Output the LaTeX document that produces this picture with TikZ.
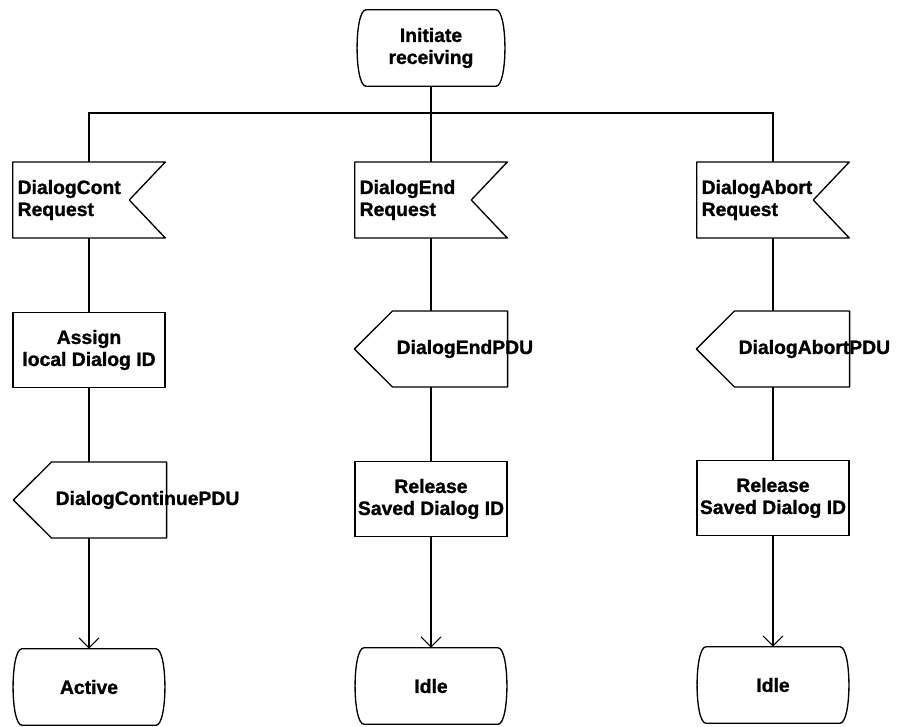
\documentclass[tikz,border=0pt]{standalone}
\usepackage{fontspec}
\setmainfont{Liberation Sans}[BoldFeatures={FakeBold=1.2}]
\usetikzlibrary{arrows.meta}
\tikzset{
    %Define standard arrow tip
    >={Straight Barb[length=7.5pt,width=15pt]},
    %Define base style for boxes
    box/.style={
           rectangle,
           inner xsep=0pt,
           minimum width=114pt,
           minimum height=56.5pt,
           font=\bfseries\fontsize{14.5}{16.5}\selectfont,
           align=center},
    %Define style for states (outline drawn later)
    state/.style={box, minimum height=57pt},
    %Define style for tasks
    task/.style={box, draw=black, line width=1pt},
    %Define style for input signals (outline drawn later)
    insig/.style={box, inner xsep=3.5pt, text width=107pt, align=left},
    %Define style for output signals (outline drawn later)
    outsig/.style={box, minimum width=86pt, inner xsep=3pt, text width=80pt, align=left},
    % Define line style
    pil/.style={line width=0.8pt},
    % Define outline style
    rand/.style={line width=1pt, line join=round}
}
\begin{document}
\begin{tikzpicture}[x=0.75pt,y=-0.75pt]
\useasboundingbox (0,0) rectangle (903,727);
 %nodes
\node[state, minimum width=111pt](init) at (431,48){Initiate\\receiving};
\coordinate (split) at (431,113);
\node[insig](recvL) at (89,200){DialogCont\\Request};
\node[insig](recvM) at (431,200){DialogEnd\\Request};
\node[insig](recvR) at (773,200){DialogAbort\\Request};
\node[task](taskL) at (89,350){Assign\\local Dialog ID};
\node[outsig](sendM) at (450,349){DialogEndPDU};
\node[outsig](sendR) at (792,349){DialogAbortPDU};
\node[outsig](sendL) at (109,500){DialogContinuePDU};
\node[task](taskM) at (431,499){Release\\Saved Dialog ID};
\node[task](taskR) at (773,498){Release\\Saved Dialog ID};
\node[state](active) at (89,687){Active};
\node[state](idleM) at (431,686){Idle};
\node[state](idleR) at (773,685){Idle};
 %outlines
\foreach \n in {init,active,idleM,idleR}
  \draw[rand] ([xshift=7pt]\n.north west) -- ([xshift=-7pt]\n.north east)
     .. controls +(12,0) and +(12,0) .. ([xshift=-7pt]\n.south east)
     -- ([xshift=7pt]\n.south west)
     .. controls +(-12,0) and +(-12,0) .. ([xshift=7pt]\n.north west) -- cycle;
\foreach \n in {recvL,recvM,recvR}
  \draw[rand] (\n.north west) -- (\n.north east) -- ([xshift=-27pt]\n.east)
     -- (\n.south east) -- (\n.south west) -- cycle;
\foreach \n in {sendL,sendM,sendR}
  \draw[rand] (\n.north west) -- (\n.north east) -- (\n.south east)
     -- (\n.south west) -- ([xshift=-28.5pt]\n.west) -- cycle;
 %connectors
\draw[pil] (init) -- (recvM);
\draw[pil] (recvL) |- (split) -| (recvR);
\path[pil]
    (recvL) edge (taskL)
    (taskL) edge (taskL |- sendL.north)
    (active |- sendL.south) edge[->] (active)
    (recvM) edge (recvM |- sendM.north)
    (taskM |- sendM.south) edge (taskM)
    (taskM) edge[->] (idleM)
    (recvR) edge (recvR |- sendR.north)
    (taskR |- sendR.south) edge (taskR)
    (taskR) edge[->] (idleR);
\end{tikzpicture}
\end{document}
